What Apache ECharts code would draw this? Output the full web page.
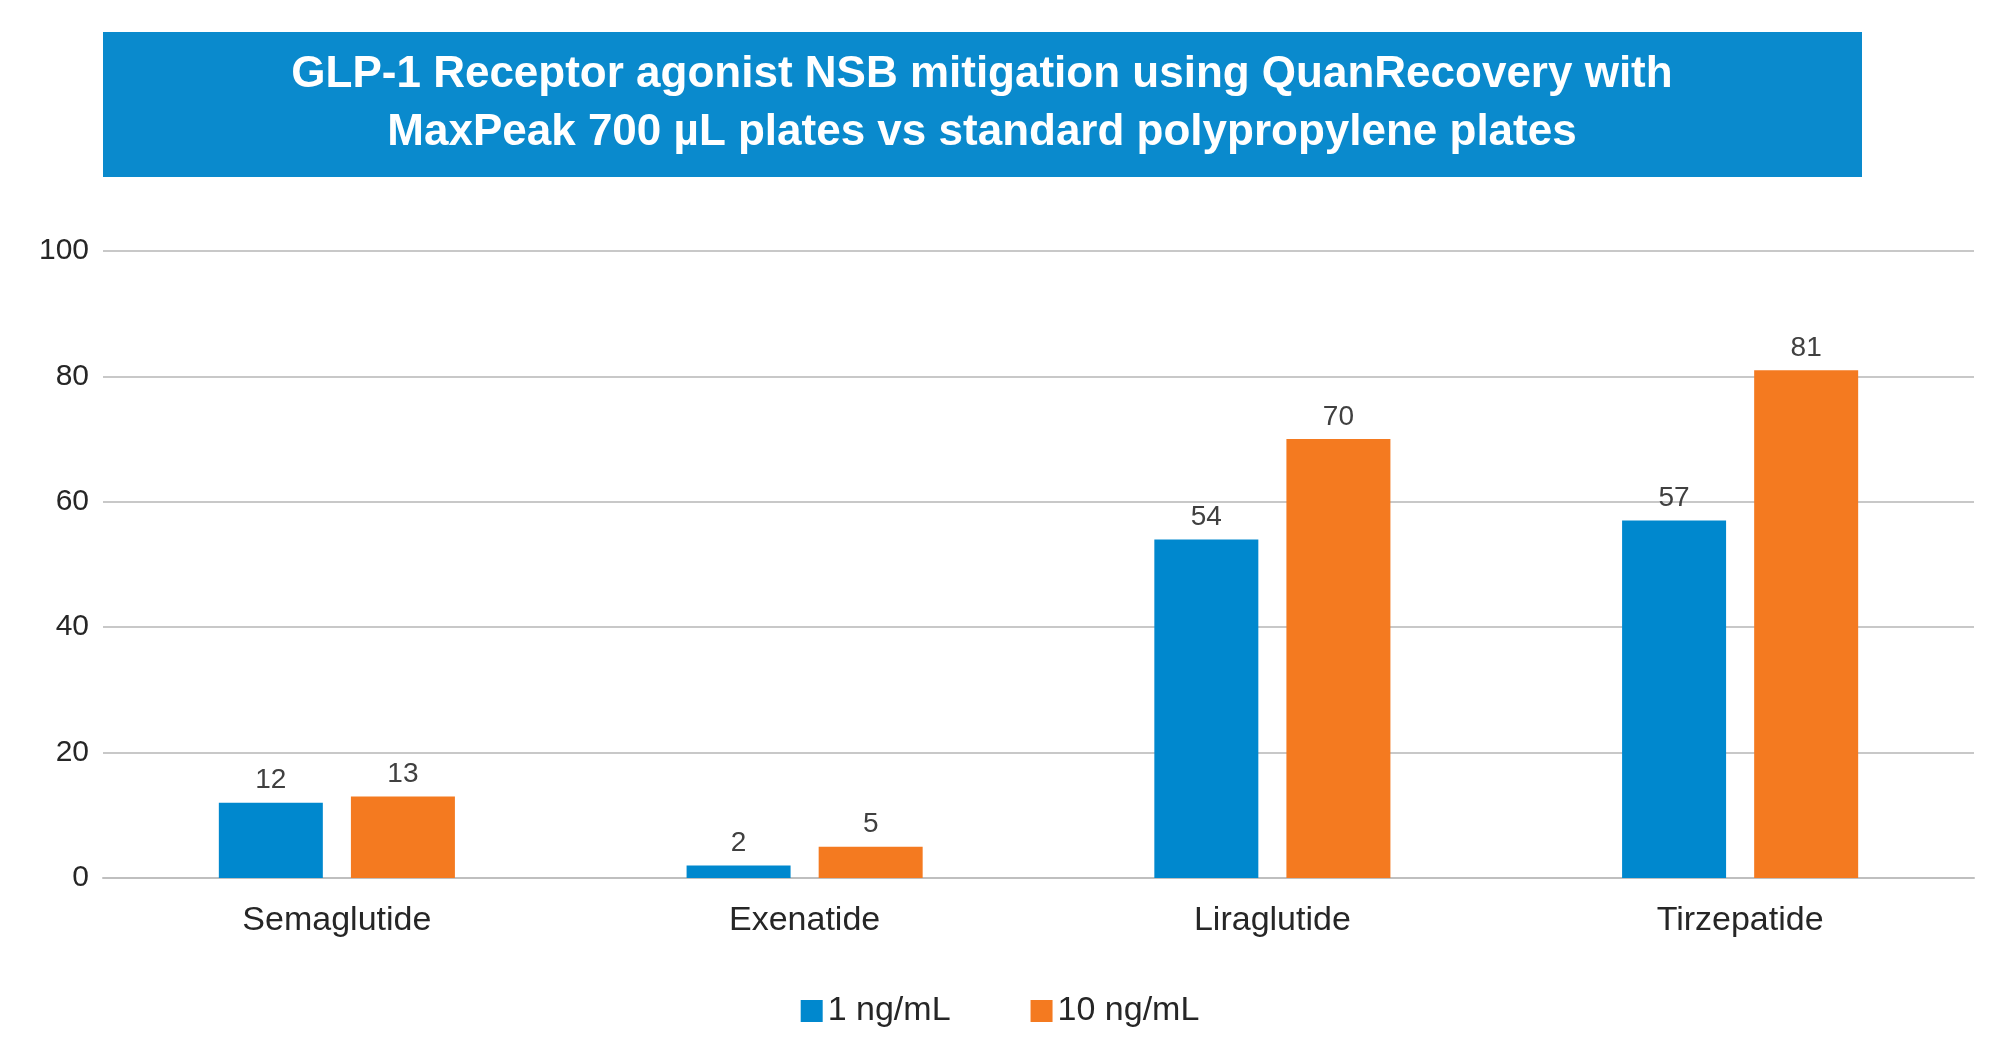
<!DOCTYPE html>
<html>
<head>
<meta charset="utf-8">
<title>GLP-1 NSB</title>
<script src="https://cdn.jsdelivr.net/npm/echarts@6/dist/echarts.min.js"></script>
<style>
html,body{margin:0;padding:0;background:#fff;}
#main{width:2000px;height:1055px;}
</style>
</head>
<body>
<div id="main"></div>
<script>
// 数据
var categories = ['Semaglutide', 'Exenatide', 'Liraglutide', 'Tirzepatide'];
var low = [12, 2, 54, 57];     // 1 ng/mL
var high = [13, 5, 70, 81];    // 10 ng/mL
var seriesNames = ['1 ng/mL', '10 ng/mL'];

var chart = echarts.init(document.getElementById('main'));
var font = 'Liberation Sans, Arial, sans-serif';
var labelStyle = {show: true, position: 'top', distance: 8, color: '#404040', fontSize: 28, fontFamily: font};

chart.setOption({
    animation: false,
    graphic: [{
        type: 'rect',
        shape: {x: 103, y: 32, width: 1759, height: 145},
        style: {fill: '#0A8ACD'}
    }, {
        type: 'text',
        x: 982, y: 104,
        style: {
            text: 'GLP-1 Receptor agonist NSB mitigation using QuanRecovery with\nMaxPeak 700 µL plates vs standard polypropylene plates',
            fill: '#fff', font: 'bold 44px ' + font, align: 'center', verticalAlign: 'middle', lineHeight: 58
        }
    }],
    legend: {
        data: seriesNames,
        bottom: 22,
        left: 'center',
        itemWidth: 22, itemHeight: 22, itemGap: 80,
        icon: 'rect',
        textStyle: {fontSize: 34, color: '#262626', fontFamily: font}
    },
    grid: {left: 103, right: 26, top: 251, bottom: 177},
    xAxis: {
        type: 'category',
        data: categories,
        axisTick: {show: false},
        axisLine: {lineStyle: {color: '#bfbfbf', width: 2}},
        axisLabel: {fontSize: 34, color: '#262626', fontFamily: font, margin: 26}
    },
    yAxis: {
        type: 'value',
        min: 0, max: 100, interval: 20,
        axisLine: {show: false},
        axisTick: {show: false},
        axisLabel: {fontSize: 30, color: '#262626', fontFamily: font, margin: 14},
        splitLine: {lineStyle: {color: '#c8c8c8', width: 2}}
    },
    series: [{
        name: seriesNames[0], type: 'bar', data: low,
        barWidth: 104, barGap: '27%',
        itemStyle: {color: '#0088CE'}, label: labelStyle
    }, {
        name: seriesNames[1], type: 'bar', data: high,
        barWidth: 104,
        itemStyle: {color: '#F47A20'}, label: labelStyle
    }]
});
</script>
</body>
</html>
